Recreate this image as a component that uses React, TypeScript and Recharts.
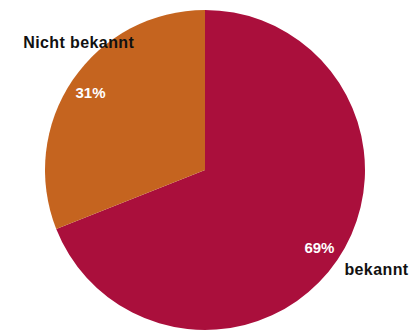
import React from 'react';
import { PieChart, Pie, Cell } from 'recharts';

const NAMES = ['bekannt', 'Nicht bekannt'];
const VALUES = [69, 31];
const COLORS = ['#AA0F3C', '#C5641F'];

// label placement tweaks (angle shift in degrees, radius factor)
const NAME_POS = [
  { shift: 4, r: 1.24 },
  { shift: -11, r: 1.12 },
];

const RAD = Math.PI / 180;

const renderLabel = (props: any) => {
  const { cx, cy, midAngle, outerRadius, index, percent } = props;
  const ri = outerRadius * 0.865;
  const px = cx + ri * Math.cos(-midAngle * RAD);
  const py = cy + ri * Math.sin(-midAngle * RAD);
  const p = NAME_POS[index];
  const a = midAngle + p.shift;
  const nx = cx + outerRadius * p.r * Math.cos(-a * RAD);
  const ny = cy + outerRadius * p.r * Math.sin(-a * RAD);
  return (
    <g>
      <text x={px} y={py} fill="#fff" fontSize={15} fontWeight="bold" textAnchor="middle" dominantBaseline="central">
        {`${Math.round(percent * 100)}%`}
      </text>
      <text x={nx} y={ny} fill="#111" fontSize={16} fontWeight="bold" textAnchor="middle" dominantBaseline="central" letterSpacing={0.4}>
        {NAMES[index]}
      </text>
    </g>
  );
};

export default function App() {
  const data = NAMES.map((name, i) => ({ name, value: VALUES[i] }));
  return (
    <div style={{ position: 'absolute', left: 0, top: 0, width: 419, height: 331, background: '#fff', fontFamily: '"Liberation Sans", Arial, sans-serif' }}>
      <PieChart width={419} height={331} margin={{ top: 0, right: 0, bottom: 0, left: 0 }}>
        <Pie
          data={data}
          dataKey="value"
          nameKey="name"
          cx={205}
          cy={170}
          outerRadius={160}
          startAngle={90}
          endAngle={-270}
          stroke="none"
          label={renderLabel}
          labelLine={false}
          isAnimationActive={false}
        >
          {data.map((d, i) => (
            <Cell key={d.name} fill={COLORS[i]} />
          ))}
        </Pie>
      </PieChart>
    </div>
  );
}
